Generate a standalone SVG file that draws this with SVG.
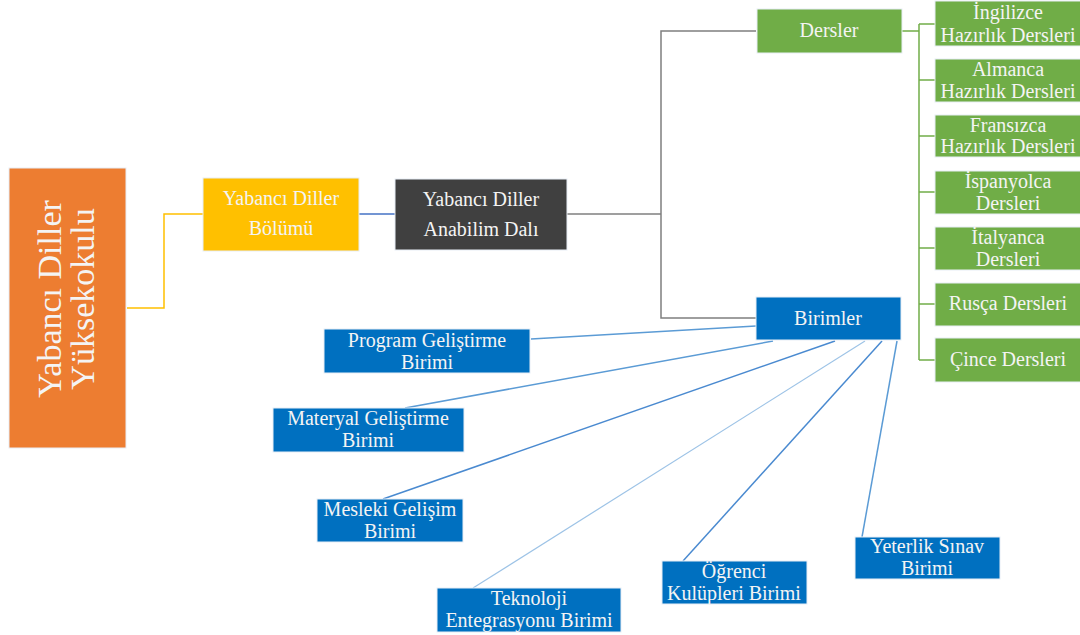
<svg xmlns="http://www.w3.org/2000/svg" width="1080" height="635" viewBox="0 0 1080 635">
<style>
text{fill:#F4F4F4;text-anchor:middle}
.big{font-size:34px}
.box{stroke:#E8EEF6;stroke-width:1}
.or{fill:#ED7D31}.ye{fill:#FFC000}.dk{fill:#404040}.gr{fill:#70AD47}.bl{fill:#0070C0}
.c{fill:none;stroke-width:1.5}
</style>
<g id="connectors">
<polyline class="c" stroke="#FFC000" points="127,308 164,308 164,214 203,214"/>
<line class="c" stroke="#4472C4" x1="359" y1="214" x2="395" y2="214"/>
<polyline class="c" stroke="#7F7F7F" points="567,214 661,214"/>
<polyline class="c" stroke="#7F7F7F" points="756,31 661,31 661,318 756,318"/>
<polyline class="c" stroke="#70AD47" points="902,31 919,31"/>
<line class="c" stroke="#70AD47" x1="919" y1="24" x2="919" y2="360"/>
<g stroke="#70AD47" stroke-width="1.5">
<line x1="919" y1="24" x2="935" y2="24"/>
<line x1="919" y1="80" x2="935" y2="80"/>
<line x1="919" y1="136" x2="935" y2="136"/>
<line x1="919" y1="192" x2="935" y2="192"/>
<line x1="919" y1="248" x2="935" y2="248"/>
<line x1="919" y1="304" x2="935" y2="304"/>
<line x1="919" y1="360" x2="935" y2="360"/>
</g>
<g stroke-width="1.5">
<line stroke="#5B9BD5" x1="531" y1="339" x2="756" y2="326"/>
<line stroke="#5B9BD5" x1="405" y1="408" x2="773" y2="341"/>
<line stroke="#4A8AD0" x1="383" y1="499" x2="835" y2="341"/>
<line stroke="#9DC3E6" stroke-width="1.2" x1="473" y1="588" x2="865" y2="341"/>
<line stroke="#4A8AD0" x1="683" y1="561" x2="882" y2="341"/>
<line stroke="#5B9BD5" x1="862" y1="537" x2="897" y2="341"/>
</g>
</g>
<g font-family="Liberation Serif, Times New Roman, serif" font-size="20">
<g id="yuksekokulu">
<rect class="box or" x="9" y="168" width="117" height="280"/>
<text class="big" transform="translate(67,299) rotate(-90)" x="0" y="-6">Yabancı Diller</text>
<text class="big" transform="translate(67,299) rotate(-90)" x="0" y="27">Yüksekokulu</text>
</g>
<g id="bolum">
<rect class="box ye" x="203" y="178" width="156" height="73"/>
<text x="281" y="205">Yabancı Diller</text>
<text x="281" y="235">Bölümü</text>
</g>
<g id="anabilim">
<rect class="box dk" x="395" y="179" width="172" height="71"/>
<text x="481" y="206">Yabancı Diller</text>
<text x="481" y="236">Anabilim Dalı</text>
</g>
<g id="dersler">
<rect class="box gr" x="757" y="9" width="145" height="44"/>
<text x="829" y="37">Dersler</text>
</g>
<g id="ingilizce">
<rect class="box gr" x="935" y="1" width="150" height="45"/>
<text x="1008" y="19">İngilizce</text>
<text x="1008" y="42">Hazırlık Dersleri</text>
</g>
<g id="almanca">
<rect class="box gr" x="935" y="59" width="150" height="43"/>
<text x="1008" y="76">Almanca</text>
<text x="1008" y="98">Hazırlık Dersleri</text>
</g>
<g id="fransizca">
<rect class="box gr" x="935" y="115" width="150" height="42"/>
<text x="1008" y="132">Fransızca</text>
<text x="1008" y="153">Hazırlık Dersleri</text>
</g>
<g id="ispanyolca">
<rect class="box gr" x="935" y="171" width="150" height="43"/>
<text x="1008" y="188">İspanyolca</text>
<text x="1008" y="210">Dersleri</text>
</g>
<g id="italyanca">
<rect class="box gr" x="935" y="227" width="150" height="43"/>
<text x="1008" y="244">İtalyanca</text>
<text x="1008" y="266">Dersleri</text>
</g>
<g id="rusca">
<rect class="box gr" x="935" y="283" width="150" height="43"/>
<text x="1008" y="310">Rusça Dersleri</text>
</g>
<g id="cince">
<rect class="box gr" x="935" y="338" width="150" height="44"/>
<text x="1008" y="366">Çince Dersleri</text>
</g>
<g id="birimler">
<rect class="box bl" x="756" y="297" width="145" height="43"/>
<text x="828" y="325">Birimler</text>
</g>
<g id="program">
<rect class="box bl" x="324" y="329" width="206" height="44"/>
<text x="427" y="347">Program Geliştirme</text>
<text x="427" y="369">Birimi</text>
</g>
<g id="materyal">
<rect class="box bl" x="273" y="408" width="191" height="44"/>
<text x="368" y="425">Materyal Geliştirme</text>
<text x="368" y="447">Birimi</text>
</g>
<g id="mesleki">
<rect class="box bl" x="317" y="499" width="146" height="43"/>
<text x="390" y="516">Mesleki Gelişim</text>
<text x="390" y="538">Birimi</text>
</g>
<g id="teknoloji">
<rect class="box bl" x="437" y="588" width="184" height="44"/>
<text x="529" y="605">Teknoloji</text>
<text x="529" y="627">Entegrasyonu Birimi</text>
</g>
<g id="ogrenci">
<rect class="box bl" x="662" y="561" width="145" height="43"/>
<text x="734" y="578">Öğrenci</text>
<text x="734" y="600">Kulüpleri Birimi</text>
</g>
<g id="yeterlik">
<rect class="box bl" x="855" y="537" width="145" height="42"/>
<text x="927" y="553">Yeterlik Sınav</text>
<text x="927" y="575">Birimi</text>
</g>
</g>
</svg>
